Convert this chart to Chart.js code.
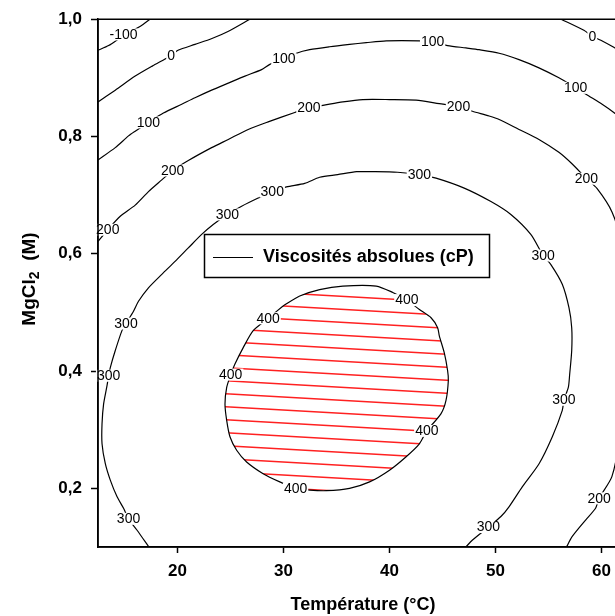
<!DOCTYPE html>
<html><head><meta charset="utf-8">
<script src="https://cdn.jsdelivr.net/npm/chart.js@4.4.1/dist/chart.umd.min.js"></script>
<style>html,body{margin:0;padding:0;overflow:hidden;background:#fff;width:615px;height:616px}canvas{display:block}</style>
</head><body>
<canvas id="c" width="640" height="616"></canvas>
<script>
// ---- data ----
const xTicks = [20, 30, 40, 50, 60];
const yTicks = [0.2, 0.4, 0.6, 0.8, 1.0];

const cM100_T = [12.5, 13.5, 14.9, 16.5, 17.4];
const cM100_M = [0.947, 0.955, 0.972, 0.988, 1.0];

const c0a_T = [12.5, 14.13, 16.01, 17.61, 18.83, 19.40, 20.05, 21.65, 23.25, 24.76, 26.83];
const c0a_M = [0.859, 0.879, 0.903, 0.920, 0.932, 0.938, 0.947, 0.957, 0.967, 0.979, 1.0];

const c0b_T = [56.18, 58.34, 59.13, 59.94, 61.16, 62.5];
const c0b_M = [1.0, 0.981, 0.971, 0.964, 0.952, 0.938];

const c100_T = [12.5, 14.13, 15.38, 16.01, 17.26, 18.67, 20.40, 21.65, 23.22, 24.79, 26.36, 27.93, 28.71, 30.04, 31.22, 32.47, 34.35, 36.23, 37.81, 39.69, 42.82, 44.07, 45.48, 47.21, 48.46, 50.34, 52.22, 54.10, 55.98, 57.56, 58.81, 60.06, 61.16, 62.5];
const c100_M = [0.760, 0.781, 0.801, 0.809, 0.824, 0.840, 0.855, 0.866, 0.879, 0.891, 0.903, 0.914, 0.923, 0.932, 0.942, 0.948, 0.953, 0.957, 0.960, 0.963, 0.963, 0.961, 0.955, 0.951, 0.948, 0.942, 0.931, 0.917, 0.900, 0.883, 0.869, 0.855, 0.841, 0.821];

const c200_T = [12.5, 13.42, 14.60, 16.01, 17.26, 18.52, 19.54, 21.02, 23.22, 24.79, 26.67, 28.55, 31.06, 32.40, 33.72, 35.60, 37.49, 40.0, 42.51, 44.70, 46.51, 47.83, 49.40, 50.35, 52.22, 54.10, 55.98, 57.24, 58.58, 59.59, 61.0, 61.82, 62.2, 62.2, 62.0, 61.64, 60.98, 59.77, 59.44, 58.50, 57.24, 56.7];
const c200_M = [0.621, 0.641, 0.664, 0.683, 0.706, 0.726, 0.742, 0.759, 0.781, 0.795, 0.812, 0.825, 0.841, 0.849, 0.853, 0.859, 0.863, 0.863, 0.862, 0.856, 0.851, 0.843, 0.835, 0.829, 0.812, 0.795, 0.773, 0.753, 0.728, 0.711, 0.671, 0.621, 0.553, 0.468, 0.384, 0.282, 0.220, 0.183, 0.166, 0.146, 0.118, 0.1];

const c300_T = [17.3, 16.17, 15.38, 14.91, 14.29, 13.66, 13.19, 12.88, 12.88, 13.03, 13.35, 13.50, 13.66, 14.13, 14.76, 15.14, 15.85, 16.32, 17.26, 18.52, 19.77, 21.02, 22.28, 23.37, 24.71, 26.05, 27.61, 28.94, 30.28, 32.0, 33.41, 35.11, 36.89, 38.30, 40.75, 42.82, 44.39, 47.05, 49.57, 51.45, 53.33, 54.50, 55.21, 56.30, 56.93, 57.19, 57.19, 57.0, 56.87, 56.46, 56.30, 55.36, 54.11, 52.54, 51.29, 50.51, 49.33, 47.83, 47.2];
const c300_M = [0.1, 0.129, 0.148, 0.166, 0.186, 0.214, 0.242, 0.276, 0.310, 0.344, 0.375, 0.392, 0.406, 0.435, 0.469, 0.481, 0.502, 0.519, 0.542, 0.565, 0.587, 0.610, 0.633, 0.650, 0.667, 0.681, 0.695, 0.706, 0.714, 0.720, 0.7305, 0.735, 0.740, 0.740, 0.739, 0.735, 0.729, 0.712, 0.689, 0.667, 0.633, 0.597, 0.582, 0.548, 0.508, 0.474, 0.435, 0.395, 0.372, 0.351, 0.333, 0.288, 0.242, 0.203, 0.169, 0.152, 0.134, 0.112, 0.1];

const c400_T = [29.96, 31.53, 33.41, 35.60, 38.75, 40.31, 41.64, 42.82, 43.92, 44.54, 44.70, 45.17, 45.48, 45.55, 45.33, 44.85, 43.52, 42.82, 41.57, 40.0, 38.12, 36.23, 34.04, 32.47, 31.14, 29.65, 28.08, 26.52, 25.58, 24.95, 24.64, 24.48, 24.64, 25.02, 25.42, 26.20, 27.14, 28.55, 29.96];
const c400_M = [0.511, 0.528, 0.539, 0.545, 0.545, 0.534, 0.521, 0.505, 0.491, 0.474, 0.460, 0.431, 0.401, 0.384, 0.350, 0.327, 0.298, 0.276, 0.254, 0.231, 0.211, 0.200, 0.196, 0.197, 0.200, 0.211, 0.225, 0.245, 0.265, 0.288, 0.316, 0.344, 0.372, 0.394, 0.412, 0.440, 0.469, 0.490, 0.511];

const labelText = ['-100', '0', '0', '100', '100', '100', '100', '200', '200', '200', '200', '200', '200', '300', '300', '300', '300', '300', '300', '300', '300', '300', '400', '400', '400', '400', '400'];
const labelT = [14.91, 19.40, 59.13, 17.26, 30.04, 44.07, 57.56, 13.42, 19.54, 32.40, 46.51, 58.58, 59.77, 24.71, 28.94, 15.14, 13.50, 15.38, 42.82, 54.50, 56.46, 49.33, 41.64, 43.52, 31.14, 25.02, 28.55];
const labelM = [0.974, 0.938, 0.971, 0.824, 0.932, 0.961, 0.883, 0.641, 0.742, 0.849, 0.851, 0.728, 0.183, 0.667, 0.706, 0.481, 0.392, 0.148, 0.735, 0.597, 0.351, 0.134, 0.521, 0.298, 0.200, 0.394, 0.490];

const legendLabel = 'Viscosités absolues (cP)';
const xTitle = 'Température (°C)';

// ---- build ----
const FONT = '"Liberation Sans", Arial, Helvetica, sans-serif';
const canvas = document.getElementById('c');
const mainCtx = canvas.getContext('2d');

function hatchPattern() {
  const w = 230, h = 13;
  const t = document.createElement('canvas');
  t.width = w; t.height = h;
  const g = t.getContext('2d');
  g.strokeStyle = '#ff2020';
  g.lineWidth = 1.5;
  for (const off of [-h, 0, h]) {
    g.beginPath(); g.moveTo(0, 4 + off); g.lineTo(w, 4 + h + off); g.stroke();
  }
  return mainCtx.createPattern(t, 'repeat');
}

const pts = (T, M) => T.map((t, i) => ({x: t, y: M[i]}));
const lineDs = (T, M, extra) => Object.assign({
  data: pts(T, M), showLine: true, borderColor: '#000', borderWidth: 1.2,
  pointRadius: 0, tension: 0.25, fill: false
}, extra || {});

const datasets = [
  lineDs(c400_T, c400_M, {fill: 'shape', backgroundColor: hatchPattern()}),
  lineDs(cM100_T, cM100_M),
  lineDs(c0a_T, c0a_M),
  lineDs(c0b_T, c0b_M),
  lineDs(c100_T, c100_M),
  lineDs(c200_T, c200_M),
  lineDs(c300_T, c300_M)
];

const labelsPlugin = {
  id: 'contourLabels',
  afterDatasetsDraw(chart) {
    const {ctx, scales: {x, y}} = chart;
    ctx.save();
    ctx.font = '14px ' + FONT;
    ctx.textAlign = 'center';
    ctx.textBaseline = 'middle';
    labelText.forEach((t, i) => {
      const px = x.getPixelForValue(labelT[i]);
      const py = y.getPixelForValue(labelM[i]);
      const w = ctx.measureText(t).width;
      ctx.fillStyle = '#fff';
      ctx.fillRect(px - w / 2 - 1, py - 6, w + 2, 12);
      ctx.fillStyle = '#000';
      ctx.fillText(t, px, py + 0.5);
    });
    ctx.restore();
  }
};

const framePlugin = {
  id: 'frameAndTitles',
  afterDraw(chart) {
    const {ctx, chartArea: a} = chart;
    ctx.save();
    // frame
    ctx.strokeStyle = '#000';
    ctx.lineWidth = 1.5;
    ctx.beginPath();
    ctx.moveTo(a.left, a.bottom); ctx.lineTo(a.left, a.top); ctx.lineTo(a.right, a.top);
    ctx.lineTo(a.right, a.bottom); ctx.lineTo(a.left, a.bottom);
    ctx.stroke();
    // legend box
    ctx.fillStyle = '#fff';
    ctx.fillRect(204, 234, 285, 43);
    ctx.lineWidth = 1.5;
    ctx.strokeRect(204.5, 234.5, 285, 43);
    ctx.lineWidth = 1;
    ctx.beginPath(); ctx.moveTo(213, 257.5); ctx.lineTo(253, 257.5); ctx.stroke();
    ctx.fillStyle = '#000';
    ctx.font = 'bold 18px ' + FONT;
    ctx.textAlign = 'left';
    ctx.textBaseline = 'middle';
    ctx.fillText(legendLabel, 263, 257);
    // x title
    ctx.textAlign = 'center';
    ctx.fillText(xTitle, (a.left + a.right) / 2, 605);
    // y title with subscript
    ctx.translate(30, 279);
    ctx.rotate(-Math.PI / 2);
    ctx.textAlign = 'left';
    const big = 'bold 19px ' + FONT, small = 'bold 14px ' + FONT;
    ctx.font = big; const w1 = ctx.measureText('MgCl').width; const w3 = ctx.measureText('  (M)').width;
    ctx.font = small; const w2 = ctx.measureText('2').width;
    let sx = -(w1 + w2 + w3) / 2;
    ctx.font = big; ctx.fillText('MgCl', sx, 0); sx += w1;
    ctx.font = small; ctx.fillText('2', sx, 5); sx += w2;
    ctx.font = big; ctx.fillText('  (M)', sx, 0);
    ctx.restore();
  }
};

new Chart(canvas, {
  type: 'scatter',
  data: {datasets},
  options: {
    responsive: false,
    animation: false,
    devicePixelRatio: 1,
    layout: {padding: {left: 0, right: 12, top: 17, bottom: 0}},
    plugins: {legend: {display: false}, tooltip: {enabled: false}},
    scales: {
      x: {
        type: 'linear', min: 12.5, max: 62.5,
        afterBuildTicks: s => { s.ticks = xTicks.map(v => ({value: v})); },
        afterFit: s => { s.height = 69; },
        ticks: {color: '#000', font: {family: FONT, size: 17, weight: 'bold'}, padding: 8, maxRotation: 0, autoSkip: false, callback: v => String(v)},
        grid: {display: true, drawOnChartArea: false, drawTicks: true, tickLength: 6, tickColor: '#000', tickWidth: 1.5, color: '#000'},
        border: {display: true, color: '#000', width: 1.5}
      },
      y: {
        type: 'linear', min: 0.1, max: 1.0,
        afterBuildTicks: s => { s.ticks = yTicks.map(v => ({value: v})); },
        afterFit: s => { s.width = 98; },
        ticks: {color: '#000', font: {family: FONT, size: 17, weight: 'bold'}, padding: 9, autoSkip: false, callback: v => v.toFixed(1).replace('.', ',')},
        grid: {display: true, drawOnChartArea: false, drawTicks: true, tickLength: 7, tickColor: '#000', tickWidth: 1.5, color: '#000'},
        border: {display: true, color: '#000', width: 1.5}
      }
    }
  },
  plugins: [labelsPlugin, framePlugin]
});
</script>
</body></html>
